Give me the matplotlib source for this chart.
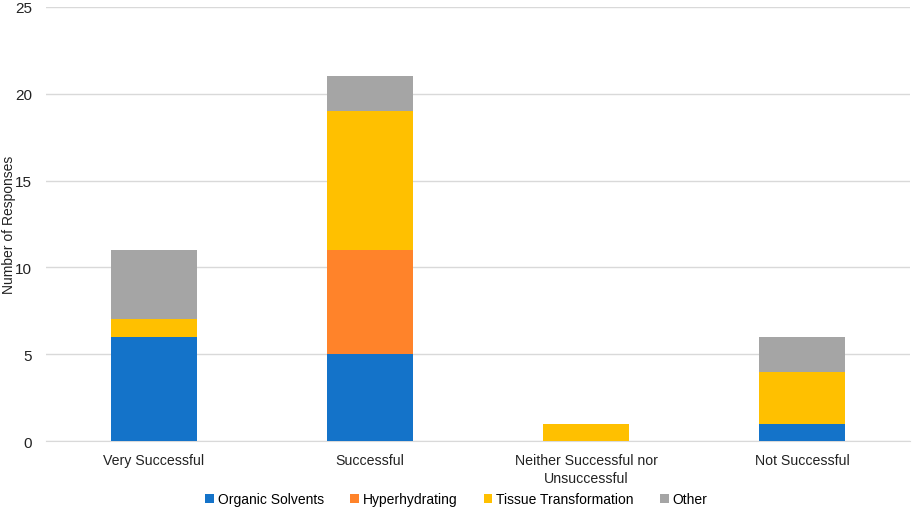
import matplotlib.pyplot as plt
import numpy as np

plt.rcParams['font.family'] = ['Liberation Sans', 'DejaVu Sans']

categorias = ['Very Successful', 'Successful', 'Neither Successful nor\nUnsuccessful', 'Not Successful']
series = ['Organic Solvents', 'Hyperhydrating', 'Tissue Transformation', 'Other']
organic = [6, 5, 0, 1]
hyper = [0, 6, 0, 0]
tissue = [1, 8, 1, 3]
other = [4, 2, 0, 2]
cores = ['#1473C9', '#FF832A', '#FFC000', '#A5A5A5']

valores = [organic, hyper, tissue, other]

fig = plt.figure(figsize=(9.13, 5.1), dpi=100)
ax = fig.add_axes([46 / 913, 1 - 442 / 510, 864 / 913, 434 / 510])

x = np.arange(len(categorias))
base = np.zeros(len(categorias))
for nome, vals, cor in zip(series, valores, cores):
    ax.bar(x, vals, 0.4, bottom=base, color=cor, label=nome, zorder=3)
    base += np.array(vals)

ax.set_xlim(-0.5, len(categorias) - 0.5)
ax.set_ylim(0, 25)
ax.set_yticks([0, 5, 10, 15, 20, 25])
ax.set_xticks(x)
ax.set_xticklabels(categorias, fontsize=10.2, color='#222222', linespacing=1.35)
ax.tick_params(axis='y', labelsize=11, colors='#222222', length=0, pad=10)
ax.tick_params(axis='x', length=0, pad=8.5)
ax.grid(True, axis='y', color='#D9D9D9', linewidth=1, zorder=0)
for s in ['top', 'right', 'left']:
    ax.spines[s].set_visible(False)
ax.spines['bottom'].set_color('#D9D9D9')

# rotulo do eixo y posicionado na figura
fig.text(9 / 913, 1 - 225 / 510, 'Number of Responses', rotation=90, fontsize=10,
         color='#222222', ha='center', va='center')

fig.legend(loc='center', bbox_to_anchor=(0.5, 1 - 500 / 510), ncol=4, frameon=False,
           fontsize=10, handlelength=0.6, handleheight=0.6, handletextpad=0.3,
           columnspacing=1.9)

fig.savefig('out.png', dpi=100)
